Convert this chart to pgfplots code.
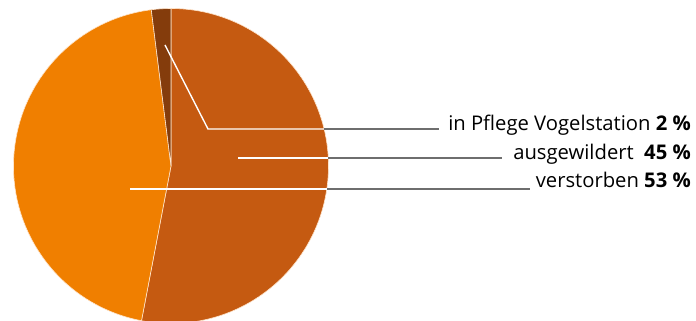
\documentclass[border=0pt]{standalone}
\usepackage{pgfplots}
\pgfplotsset{compat=1.18}
\usepackage{fontspec}
\setmainfont{Open Sans}
\definecolor{cAus}{HTML}{C55A11}
\definecolor{cVer}{HTML}{F07F00}
\definecolor{cPfl}{HTML}{843C0C}
\definecolor{cLine}{HTML}{6E6E6E}
% slice shares in percent, drawn clockwise from 12 o'clock
\def\vA{53}\def\vB{45}\def\vC{2}
\pgfmathsetmacro{\aA}{90}
\pgfmathsetmacro{\aB}{\aA-3.6*\vA}
\pgfmathsetmacro{\aC}{\aB-3.6*\vB}
\pgfmathsetmacro{\aD}{\aC-3.6*\vC}
\def\pieR{157.5bp}
\begin{document}
\begin{tikzpicture}
\begin{axis}[
  hide axis, scale only axis,
  width=696bp, height=321bp,
  xmin=0, xmax=696, ymin=0, ymax=321,
  clip=true,
]
\fill[cAus, draw=white!80!orange, line width=0.6pt]
  (axis cs:171,155) -- ++(\aA:\pieR) arc[start angle=\aA, end angle=\aB, radius=\pieR] -- cycle;
\fill[cVer, draw=white!80!orange, line width=0.6pt]
  (axis cs:171,155) -- ++(\aB:\pieR) arc[start angle=\aB, end angle=\aC, radius=\pieR] -- cycle;
\fill[cPfl, draw=white!80!orange, line width=0.6pt]
  (axis cs:171,155) -- ++(\aC:\pieR) arc[start angle=\aC, end angle=\aD, radius=\pieR] -- cycle;
% leader lines: white inside the pie, grey outside
\draw[white, line width=1.4pt] (axis cs:165,276) -- (axis cs:208,192) -- (axis cs:324,192);
\draw[cLine, line width=1.4pt] (axis cs:324,192) -- (axis cs:439,192);
\draw[white, line width=1.4pt] (axis cs:238,163) -- (axis cs:328,163);
\draw[cLine, line width=1.4pt] (axis cs:328,163) -- (axis cs:502,163);
\draw[white, line width=1.4pt] (axis cs:130,132) -- (axis cs:327,132);
\draw[cLine, line width=1.4pt] (axis cs:327,132) -- (axis cs:530,132);
% labels
\node[anchor=base east, font=\fontsize{20.3}{24}\selectfont, inner sep=0pt] at (axis cs:691,190) {in Pflege Vogelstation \textbf{2 \%}};
\node[anchor=base east, font=\fontsize{20.3}{24}\selectfont, inner sep=0pt] at (axis cs:691,161) {ausgewildert\ \ \textbf{45 \%}};
\node[anchor=base east, font=\fontsize{20.3}{24}\selectfont, inner sep=0pt] at (axis cs:691,133) {verstorben \textbf{53 \%}};
\end{axis}
\pgfresetboundingbox
\useasboundingbox (current axis.south west) rectangle (current axis.north east);
\end{tikzpicture}
\end{document}
